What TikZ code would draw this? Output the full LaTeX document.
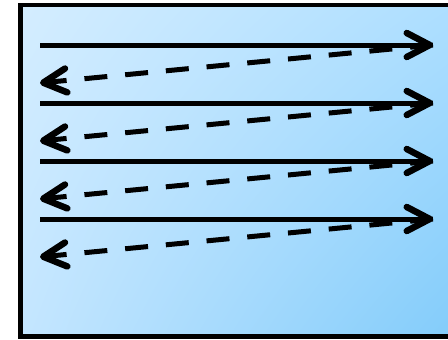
\documentclass[tikz,border=0pt]{standalone}
\usetikzlibrary{arrows.meta,shadings}
\definecolor{cUL}{RGB}{212,237,255}
\definecolor{cUR}{RGB}{172,222,255}
\definecolor{cLL}{RGB}{196,230,255}
\definecolor{cLR}{RGB}{128,203,250}
\begin{document}
\begin{tikzpicture}[x=1pt,y=-1pt,
  tipstyle/.style={-{Straight Barb[length=23pt,width=24pt,line width=6.5pt,round]}},
  scanline/.style={line width=5pt, tipstyle},
  returnline/.style={line width=5pt, dash pattern=on 23pt off 17.9pt, tipstyle},
  frame/.style={line width=4.8pt, draw=black}]
\useasboundingbox (0,0) rectangle (448,340);
\begin{scope}
  \clip (0,0) rectangle (448,340);
  \shade[upper left=cUL, upper right=cUR, lower left=cLL, lower right=cLR]
        (20.5,5) rectangle (470,336.5);
  \draw[frame] (20.5,5) rectangle (470,336.5);
\end{scope}
% scan rows
\foreach \i/\ys/\yd in {1/45/83, 2/103/141, 3/161/199, 4/219/257}{
  \coordinate (s\i) at (40,\ys);
  \coordinate (e\i) at (433,\ys);
  \coordinate (r\i) at (40,\yd);
}
\foreach \i in {1,2,3,4}{
  \draw[scanline] (s\i) -- (e\i);
  \draw[returnline] (e\i) -- (r\i);
}
\end{tikzpicture}
\end{document}
